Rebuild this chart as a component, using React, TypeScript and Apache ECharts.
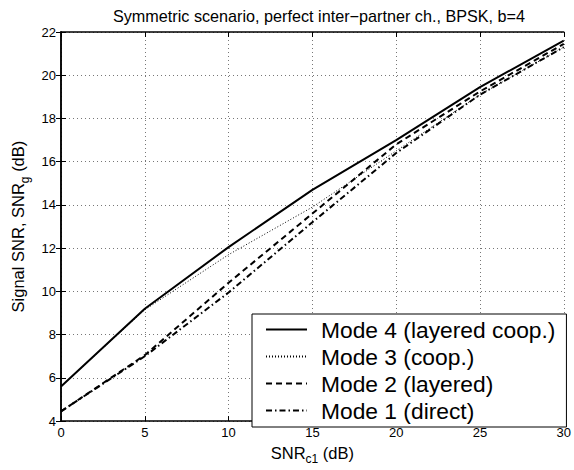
import React, { useEffect, useRef } from "react";
import * as echarts from "echarts";

const xValues = [0, 5, 10, 15, 20, 25, 30];
const mode4 = [5.6, 9.2, 12.05, 14.7, 17.0, 19.45, 21.6];
const mode3 = [5.6, 9.15, 11.7, 13.9, 16.5, 19.1, 21.3];
const mode2 = [4.45, 7.05, 10.4, 13.6, 16.8, 19.25, 21.45];
const mode1 = [4.45, 7.0, 9.95, 13.2, 16.4, 19.1, 21.3];

const seriesNames = [
  "Mode 4 (layered coop.)",
  "Mode 3 (coop.)",
  "Mode 2 (layered)",
  "Mode 1 (direct)",
];

const titleText = "Symmetric scenario, perfect inter\u2212partner ch., BPSK, b=4";
const FONT = "'Liberation Sans', Arial, Helvetica, sans-serif";

const pair = (ys: number[]) => xValues.map((x, i) => [x, ys[i]]);

export default function App() {
  const ref = useRef<HTMLDivElement>(null);
  useEffect(() => {
    if (!ref.current) return;
    const chart = echarts.init(ref.current, undefined, { renderer: "svg" });
    const rich = {
      n: { fontSize: 16.5, lineHeight: 17, verticalAlign: "top", fontFamily: FONT, color: "#000" },
      s: { fontSize: 12, lineHeight: 12, padding: [9, 0, 0, 0], verticalAlign: "top", fontFamily: FONT, color: "#000" },
    };
    const axisCommon = {
      axisLine: { show: true, lineStyle: { color: "#000", width: 1.5 } },
      axisTick: { show: true, inside: true, length: 5, lineStyle: { color: "#000", width: 1 } },
    };
    const splitLine = { show: true, lineStyle: { color: "#777", width: 1, type: [1, 3] } };
    const lineSeries = (name: string, data: number[], type: any, width: number) => ({
      name,
      type: "line",
      data: pair(data),
      symbol: "none",
      lineStyle: { color: "#000", width, type },
      itemStyle: { color: "#000" },
      z: 3,
    });
    chart.setOption({
      animation: false,
      backgroundColor: "#fff",
      title: {
        text: titleText,
        left: 314,
        textAlign: "center",
        top: 3,
        textStyle: { fontSize: 16.2, fontWeight: "normal", color: "#000", fontFamily: FONT },
      },
      grid: { left: 61, right: 7, top: 32, bottom: 38 },
      legend: {
        data: seriesNames,
        orient: "vertical",
        left: 252,
        top: 314,
        backgroundColor: "#fff",
        borderColor: "#000",
        borderWidth: 1,
        padding: [4, 11, 5, 13],
        itemWidth: 41,
        itemHeight: 14,
        itemGap: 4,
        itemStyle: { opacity: 0 },
        textStyle: { fontSize: 22.8, lineHeight: 22, color: "#000", fontFamily: FONT, padding: [0, 0, 0, 9] },
        z: 10,
      },
      xAxis: [
        {
          type: "value",
          min: 0,
          max: 30,
          interval: 5,
          position: "bottom",
          ...axisCommon,
          axisLabel: { color: "#000", fontSize: 13, fontFamily: FONT, margin: 5 },
          splitLine,
          name: "{n|SNR}{s|c1}{n| (dB)}",
          nameLocation: "middle",
          nameGap: 21,
          nameTextStyle: { rich },
        },
        {
          type: "value",
          min: 0,
          max: 30,
          interval: 5,
          position: "top",
          ...axisCommon,
          axisLabel: { show: false },
          splitLine: { show: false },
        },
      ],
      yAxis: [
        {
          type: "value",
          min: 4,
          max: 22,
          interval: 2,
          position: "left",
          ...axisCommon,
          axisLabel: { color: "#000", fontSize: 13, fontFamily: FONT, margin: 5 },
          splitLine,
          name: "{n|Signal SNR, SNR}{s|g}{n| (dB)}",
          nameLocation: "middle",
          nameRotate: 90,
          nameGap: 31,
          nameTextStyle: { rich },
        },
        {
          type: "value",
          min: 4,
          max: 22,
          interval: 2,
          position: "right",
          ...axisCommon,
          axisLabel: { show: false },
          splitLine: { show: false },
        },
      ],
      series: [
        lineSeries(seriesNames[0], mode4, "solid", 2),
        lineSeries(seriesNames[1], mode3, [1, 2], 1),
        lineSeries(seriesNames[2], mode2, [6, 4], 2),
        lineSeries(seriesNames[3], mode1, [6, 3, 1.5, 3], 2),
      ],
    });
    return () => chart.dispose();
  }, []);
  return (
    <div
      ref={ref}
      style={{ position: "fixed", left: 0, top: 0, width: 574, height: 470, background: "#fff" }}
    />
  );
}
